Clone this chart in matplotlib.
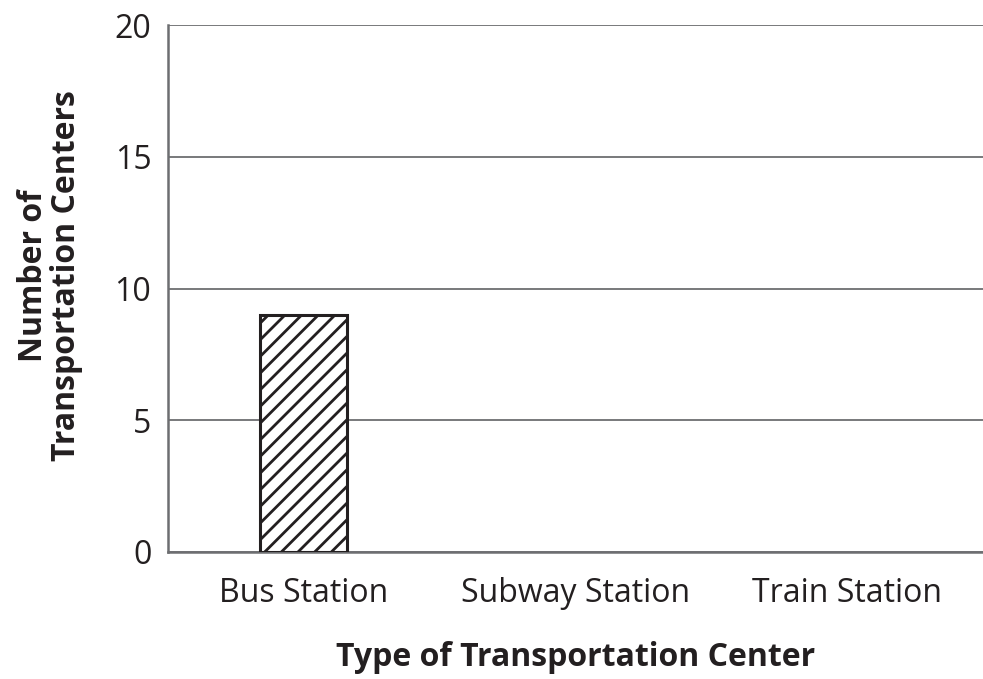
import matplotlib
matplotlib.use("Agg")
import matplotlib.pyplot as plt

categories = ["Bus Station", "Subway Station", "Train Station"]
values = [9, 0, 0]
yticks = [0, 5, 10, 15, 20]

plt.rcParams['font.family'] = ['Open Sans', 'DejaVu Sans']
plt.rcParams['hatch.linewidth'] = 2.0
plt.rcParams['hatch.color'] = '#231f20'

fig = plt.figure(figsize=(9.83, 6.79), dpi=100)
ax = fig.add_axes([168/983, 1-552/679, 815/983, (552-25)/679])

x = list(range(len(categories)))
edges = ['#231f20' if v > 0 else 'none' for v in values]
ax.bar(x, values, width=0.32, facecolor='white', edgecolor=edges,
       linewidth=2.2, hatch='//', zorder=3)

ax.set_xlim(-0.5, 2.5)
ax.set_ylim(0, 20)
ax.set_yticks(yticks)
ax.set_xticks(x)
ax.set_xticklabels(categories)
ax.yaxis.grid(True, color='#6d6e71', linewidth=1.3)
ax.set_axisbelow(True)
ax.tick_params(axis='both', length=0, labelsize=23, colors='#231f20')
ax.tick_params(axis='x', pad=18)
ax.tick_params(axis='y', pad=12)
for s in ['top', 'right']:
    ax.spines[s].set_visible(False)
for s in ['left', 'bottom']:
    ax.spines[s].set_color('#6d6e71')
    ax.spines[s].set_linewidth(1.8)

ax.set_xlabel("Type of Transportation Center", fontsize=23, fontweight='bold',
              color='#231f20', labelpad=22)
ax.set_ylabel("Number of\nTransportation Centers", fontsize=23, fontweight='bold',
              color='#231f20', linespacing=1.0)
ax.yaxis.set_label_coords(-0.104, 0.524)

fig.savefig("out.png", dpi=100)
